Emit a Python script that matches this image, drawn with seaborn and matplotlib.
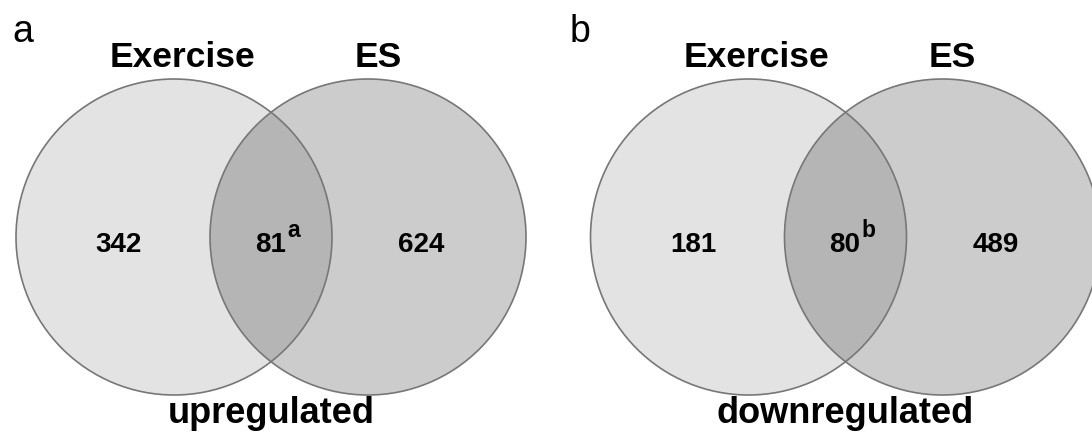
import matplotlib
matplotlib.use("Agg")
import matplotlib.pyplot as plt
from matplotlib.patches import Circle
import seaborn as sns

# Venn counts
panel_letters = ["a", "b"]
set_names = ["Exercise", "ES"]
only_exercise = [342, 181]
overlap = [81, 80]
overlap_marks = ["a", "b"]
only_es = [624, 489]
directions = ["upregulated", "downregulated"]

sns.set_theme(style="white")
plt.rcParams["font.family"] = ["Liberation Sans", "DejaVu Sans"]
plt.rcParams["text.color"] = "black"

fig = plt.figure(figsize=(10.92, 4.39), dpi=100)
ax = fig.add_axes([0, 0, 1, 1])
ax.set_xlim(0, 1092)
ax.set_ylim(439, 0)
ax.axis("off")

# layout in pixels
r = 158
cy = 238
left_cx = [174, 748.5]
gap = 194
letter_x = [12, 570]
edge = "#777777"

for i in range(len(panel_letters)):
    lx = left_cx[i]
    rx = lx + gap
    mid = (lx + rx) / 2

    ax.add_patch(Circle((lx, cy), r, facecolor="#e3e3e3", edgecolor="none"))
    ax.add_patch(Circle((rx, cy), r, facecolor="black", alpha=0.2, edgecolor="none"))
    ax.add_patch(Circle((lx, cy), r, facecolor="none", edgecolor=edge, lw=1.2))
    ax.add_patch(Circle((rx, cy), r, facecolor="none", edgecolor=edge, lw=1.2))

    ax.text(letter_x[i], 42, panel_letters[i], fontsize=27, ha="left", va="baseline")
    ax.text(lx + 8, 67, set_names[0], fontsize=25.5, fontweight="bold", ha="center", va="baseline")
    ax.text(rx + 10, 67, set_names[1], fontsize=25.5, fontweight="bold", ha="center", va="baseline")

    ax.text(lx - 55, 252, str(only_exercise[i]), fontsize=20, fontweight="bold", ha="center", va="baseline")
    ax.text(rx + 53, 252, str(only_es[i]), fontsize=20, fontweight="bold", ha="center", va="baseline")
    ax.text(mid + 15, 252, str(overlap[i]), fontsize=20, fontweight="bold", ha="right", va="baseline")
    ax.text(mid + 16, 237, overlap_marks[i], fontsize=16.5, fontweight="bold", ha="left", va="baseline")

    ax.text(mid, 423, directions[i], fontsize=26, fontweight="bold", ha="center", va="baseline")

fig.savefig("out.png", dpi=100)
